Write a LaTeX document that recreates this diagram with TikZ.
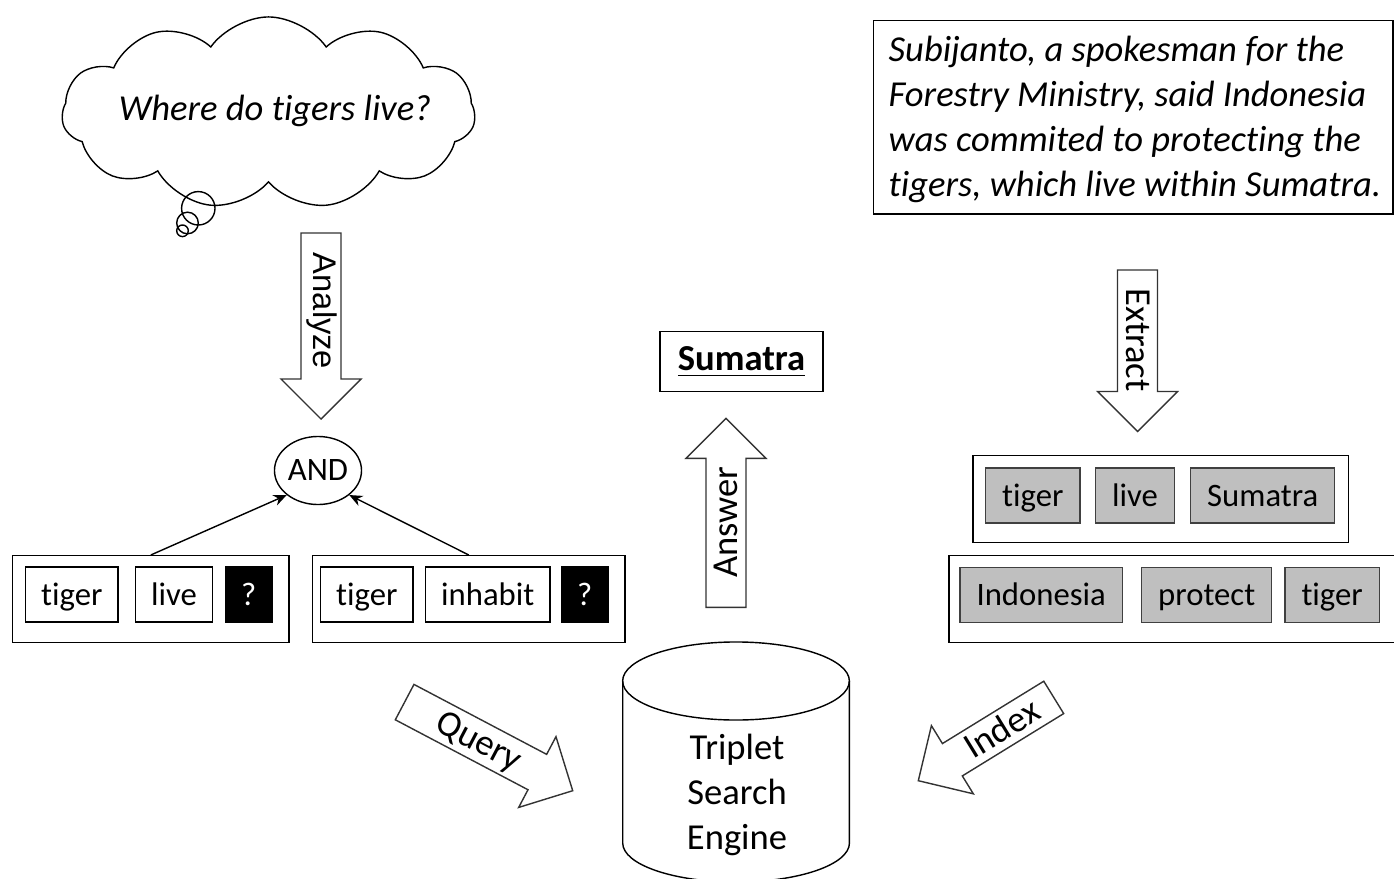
\documentclass[tikz,border=0pt]{standalone}
\usepackage{fontspec}
\setmainfont{Carlito}[Ligatures=CommonOff]
\newfontfamily\arialfont{Liberation Sans}
\usetikzlibrary{arrows.meta,shapes.symbols,shapes.geometric}

\definecolor{wordgray}{RGB}{191,191,191}
\newcommand{\bigfont}{\fontsize{10.4}{12.8}\selectfont}
\newcommand{\smallfont}{\fontsize{9.3}{11.2}\selectfont}

\begin{document}
\begin{tikzpicture}[x=0.01cm, y=-0.01cm, >={Stealth[length=1.3mm,width=1.1mm]},
  word/.style={draw, anchor=west, minimum height=0.55cm, inner xsep=0.155cm, inner ysep=0pt,
    text height=0.24cm, text depth=0.03cm, font=\smallfont},
  gray word/.style={word, draw=black!75, fill=wordgray, inner xsep=0.165cm},
  blank/.style={word, fill=black, text=white},
  group/.style={draw, anchor=north west, minimum height=0.867cm},
  blockarrow/.style={draw=black!80, fill=white, line join=miter}]
\useasboundingbox (0,0) rectangle (1394,879);

% Question cloud
\node[cloud, draw, cloud puffs=11, cloud puff arc=110, cloud ignores aspect,
  minimum width=4.13cm, minimum height=1.92cm] (thought) at (268.5,113) {};
\node[font=\bigfont\itshape] (question) at (275,111) {Where do tigers live?};
\draw (198.3,208.3) circle[radius=0.167cm];
\draw (187.5,223) circle[radius=0.108cm];
\draw (182.5,230.8) circle[radius=0.058cm];

% Sentence
\node[draw, anchor=north west, minimum width=5.19cm, minimum height=1.93cm] (story) at (873,20) {};
\node[anchor=west, align=left, inner sep=0pt, font=\bigfont\itshape] (storytext) at (888,119)
  {Subijanto, a spokesman for the\\ Forestry Ministry, said Indonesia\\
   was commited to protecting the\\ tigers, which live within Sumatra.};

% Analyze
\begin{scope}[shift={(321,419)}, rotate=-90]
\draw[blockarrow] (0,0) -- (-40,40) -- (-40,20) -- (-186,20) -- (-186,-20) -- (-40,-20) -- (-40,-40) -- cycle;
\end{scope}
\node[font=\arialfont\smallfont, rotate=-90] (analyze) at (322,311) {Analyze};

\node[draw, ellipse, minimum width=0.87cm, minimum height=0.68cm, inner sep=0pt, font=\smallfont] (and) at (318,470.5) {AND};

% Query triplets
\node[group, minimum width=2.76cm] (qleft) at (12,555) {};
\node[word] (q1s) at (25,594.5) {tiger};
\node[word] (q1p) at (135,594.5) {live};
\node[blank] (q1o) at (225,594.5) {?};
\node[group, minimum width=3.12cm] (qright) at (312,555) {};
\node[word] (q2s) at (320,594.5) {tiger};
\node[word] (q2p) at (425,594.5) {inhabit};
\node[blank] (q2o) at (561,594.5) {?};
\draw[->] (qleft.north) -- (and.south west);
\draw[->] (qright.north) -- (and.south east);

% Answer
\node[draw, minimum width=1.63cm, minimum height=0.6cm, font=\bigfont\bfseries] (answer) at (741.5,361.7) {\underline{Sumatra}};
\begin{scope}[shift={(726,418.3)}, rotate=90]
\draw[blockarrow] (0,0) -- (-40,40) -- (-40,20) -- (-189,20) -- (-189,-20) -- (-40,-20) -- (-40,-40) -- cycle;
\end{scope}
\node[font=\bigfont, rotate=90] (answerlbl) at (726,522) {Answer};

% Extract
\begin{scope}[shift={(1137.5,431.5)}, rotate=-90]
\draw[blockarrow] (0,0) -- (-40,40) -- (-40,20) -- (-161.5,20) -- (-161.5,-20) -- (-40,-20) -- (-40,-40) -- cycle;
\end{scope}
\node[font=\bigfont, rotate=-90] (extract) at (1138,340) {Extract};

% Extracted triplets
\node[group, minimum width=3.75cm] (tripA) at (972.3,455) {};
\node[gray word] (t1s) at (985,495.5) {tiger};
\node[gray word] (t1p) at (1095,495.5) {live};
\node[gray word] (t1o) at (1190,495.5) {Sumatra};
\node[group, minimum width=5cm] (tripB) at (948.3,555) {};
\node[gray word] (t2s) at (959.3,595) {Indonesia};
\node[gray word] (t2p) at (1141,595) {protect};
\node[gray word] (t2o) at (1284.3,595) {tiger};

% Search engine
\draw (622.7,681) -- (622.7,843) arc[start angle=180, end angle=360, x radius=1.133cm, y radius=0.39cm] -- (849.3,681);
\draw (736,681) ellipse[x radius=1.133cm, y radius=0.39cm];
\node[align=center, font=\bigfont] (engine) at (737,795) {Triplet\\ Search\\ Engine};

% Query and Index
\begin{scope}[shift={(572.7,790.7)}, rotate=-27.8]
\draw[blockarrow] (0,0) -- (-40,40) -- (-40,20) -- (-190,20) -- (-190,-20) -- (-40,-20) -- (-40,-40) -- cycle;
\end{scope}
\node[font=\bigfont, rotate=-27.8] (query) at (478,743) {Query};
\begin{scope}[shift={(918.3,780.7)}, rotate=211.6]
\draw[blockarrow] (0,0) -- (-40,40) -- (-40,19) -- (-159,19) -- (-159,-19) -- (-40,-19) -- (-40,-40) -- cycle;
\end{scope}
\node[font=\bigfont, rotate=31.6] (index) at (1001.5,728) {Index};
\end{tikzpicture}
\end{document}
